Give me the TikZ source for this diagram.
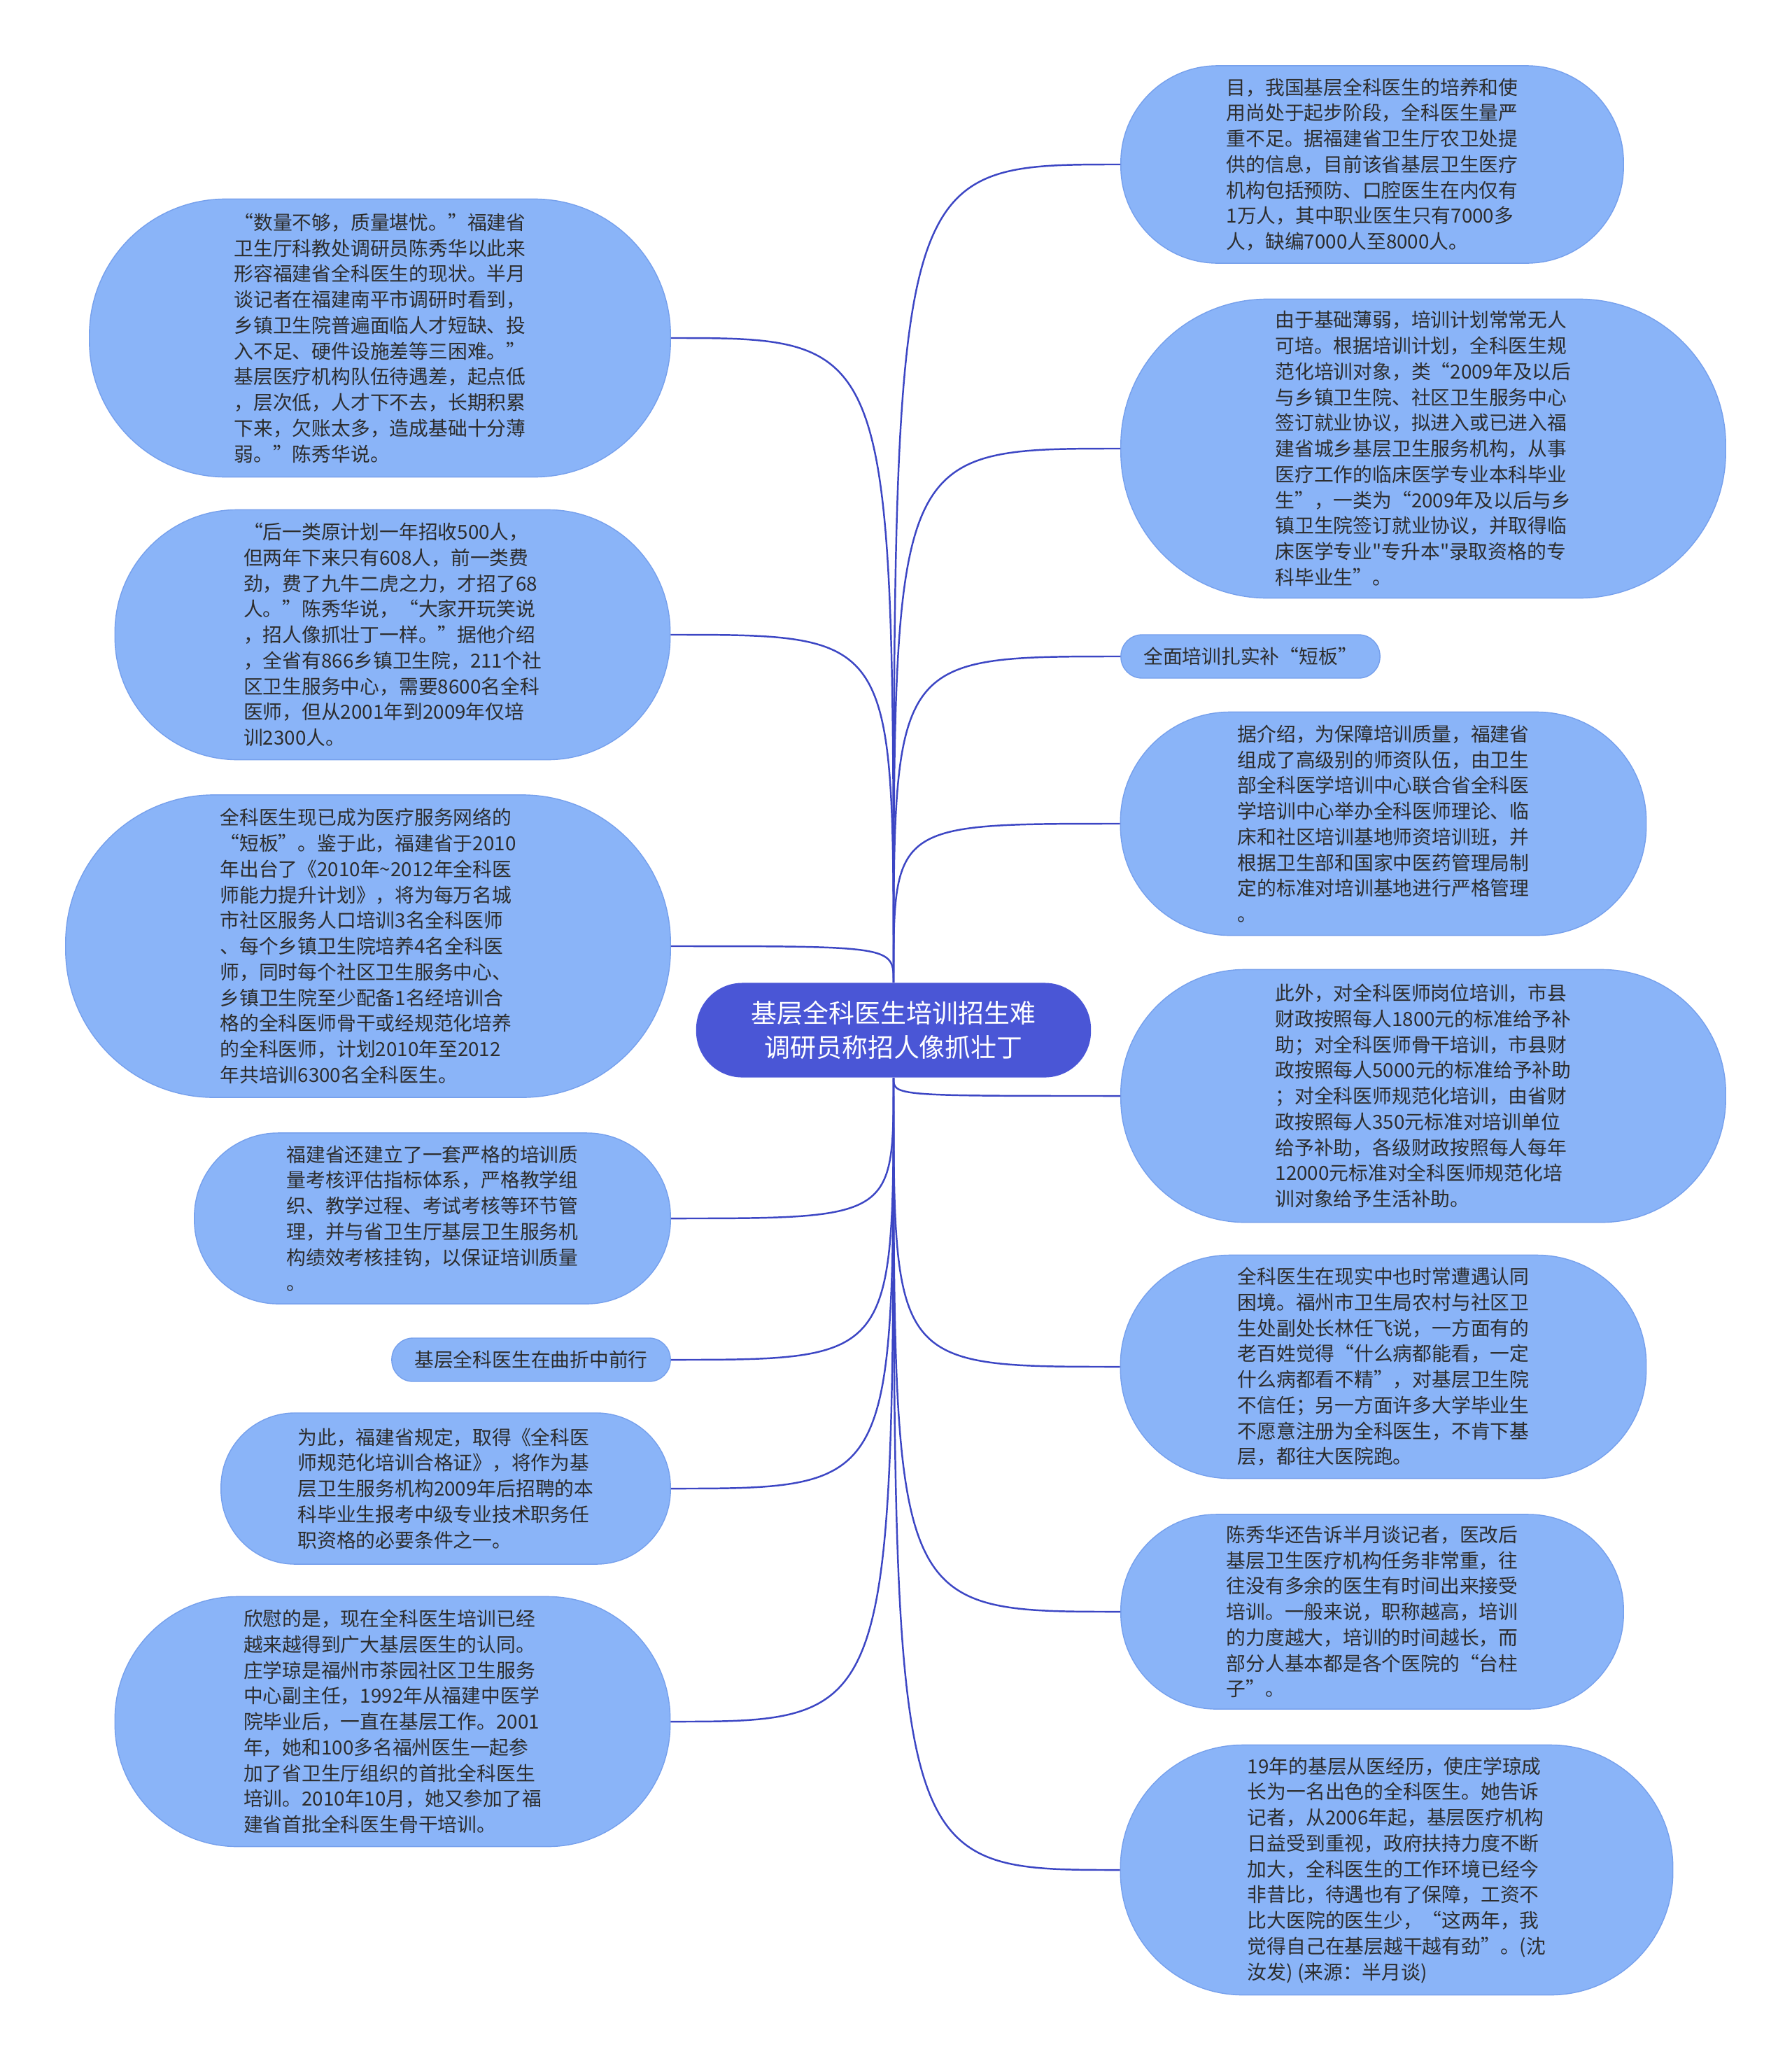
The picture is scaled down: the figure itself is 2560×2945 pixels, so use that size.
\documentclass[tikz,border=0pt]{standalone}
\usepackage{fontspec}
\newfontfamily\cjk{Noto Sans CJK SC}
\definecolor{bubblefill}{RGB}{138,180,248}
\definecolor{bubbleline}{RGB}{118,160,236}
\definecolor{rootfill}{RGB}{74,86,214}
\definecolor{linkblue}{RGB}{60,70,196}
\definecolor{textgray}{RGB}{45,45,45}

\begin{document}
\begin{tikzpicture}[x=0.01cm, y=-0.01cm,
  bubble/.style 2 args={draw=bubbleline, line width=0.4pt, fill=bubblefill, text=textgray,
    align=left, inner sep=2pt, minimum width=#1, minimum height=#2, rounded corners=0.49*#2,
    font=\cjk\fontsize{7.9}{10.45}\selectfont},
  root/.style={fill=rootfill, text=white, align=center, inner sep=2pt,
    minimum width=5.64cm, minimum height=1.35cm, rounded corners=0.66cm,
    font=\cjk\fontsize{10.5}{13.9}\selectfont},
  link/.style={draw=linkblue, line width=0.7pt}]
\useasboundingbox (0,0) rectangle (2560,2945);

\node[root] (root) at (1277,1472) {基层全科医生培训招生难\\调研员称招人像抓壮丁};

% left side
\node[bubble={8.30cm}{3.97cm}] (l1) at (543,483) {“数量不够，质量堪忧。”福建省\\
卫生厅科教处调研员陈秀华以此来\\
形容福建省全科医生的现状。半月\\
谈记者在福建南平市调研时看到，\\
乡镇卫生院普遍面临人才短缺、投\\
入不足、硬件设施差等三困难。”\\
基层医疗机构队伍待遇差，起点低\\
，层次低，人才下不去，长期积累\\
下来，欠账太多，造成基础十分薄\\
弱。”陈秀华说。};
\node[bubble={7.93cm}{3.57cm}] (l2) at (561,907) {“后一类原计划一年招收500人，\\
但两年下来只有608人，前一类费\\
劲，费了九牛二虎之力，才招了68\\
人。”陈秀华说，“大家开玩笑说\\
，招人像抓壮丁一样。”据他介绍\\
，全省有866乡镇卫生院，211个社\\
区卫生服务中心，需要8600名全科\\
医师，但从2001年到2009年仅培\\
训2300人。};
\node[bubble={8.64cm}{4.32cm}] (l3) at (526,1352) {全科医生现已成为医疗服务网络的\\
“短板”。鉴于此，福建省于2010\\
年出台了《2010年\textasciitilde 2012年全科医\\
师能力提升计划》，将为每万名城\\
市社区服务人口培训3名全科医师\\
、每个乡镇卫生院培养4名全科医\\
师，同时每个社区卫生服务中心、\\
乡镇卫生院至少配备1名经培训合\\
格的全科医师骨干或经规范化培养\\
的全科医师，计划2010年至2012\\
年共培训6300名全科医生。};
\node[bubble={6.80cm}{2.44cm}] (l4) at (618,1741) {福建省还建立了一套严格的培训质\\
量考核评估指标体系，严格教学组\\
织、教学过程、考试考核等环节管\\
理，并与省卫生厅基层卫生服务机\\
构绩效考核挂钩，以保证培训质量\\
。};
\node[bubble={3.98cm}{0.62cm}] (l5) at (759,1943) {基层全科医生在曲折中前行};
\node[bubble={6.42cm}{2.16cm}] (l6) at (637,2127) {为此，福建省规定，取得《全科医\\
师规范化培训合格证》，将作为基\\
层卫生服务机构2009年后招聘的本\\
科毕业生报考中级专业技术职务任\\
职资格的必要条件之一。};
\node[bubble={7.93cm}{3.57cm}] (l7) at (561,2460) {欣慰的是，现在全科医生培训已经\\
越来越得到广大基层医生的认同。\\
庄学琼是福州市茶园社区卫生服务\\
中心副主任，1992年从福建中医学\\
院毕业后，一直在基层工作。2001\\
年，她和100多名福州医生一起参\\
加了省卫生厅组织的首批全科医生\\
培训。2010年10月，她又参加了福\\
建省首批全科医生骨干培训。};

% right side
\node[bubble={7.18cm}{2.82cm}] (r1) at (1961,235) {目，我国基层全科医生的培养和使\\
用尚处于起步阶段，全科医生量严\\
重不足。据福建省卫生厅农卫处提\\
供的信息，目前该省基层卫生医疗\\
机构包括预防、口腔医生在内仅有\\
1万人，其中职业医生只有7000多\\
人，缺编7000人至8000人。};
\node[bubble={8.64cm}{4.27cm}] (r2) at (2034,641) {由于基础薄弱，培训计划常常无人\\
可培。根据培训计划，全科医生规\\
范化培训对象，类“2009年及以后\\
与乡镇卫生院、社区卫生服务中心\\
签订就业协议，拟进入或已进入福\\
建省城乡基层卫生服务机构，从事\\
医疗工作的临床医学专业本科毕业\\
生”，一类为“2009年及以后与乡\\
镇卫生院签订就业协议，并取得临\\
床医学专业"专升本"录取资格的专\\
科毕业生”。};
\node[bubble={3.70cm}{0.62cm}] (r3) at (1787,938) {全面培训扎实补“短板”};
\node[bubble={7.51cm}{3.19cm}] (r4) at (1977,1177) {据介绍，为保障培训质量，福建省\\
组成了高级别的师资队伍，由卫生\\
部全科医学培训中心联合省全科医\\
学培训中心举办全科医师理论、临\\
床和社区培训基地师资培训班，并\\
根据卫生部和国家中医药管理局制\\
定的标准对培训基地进行严格管理\\
。};
\node[bubble={8.64cm}{3.61cm}] (r5) at (2034,1566) {此外，对全科医师岗位培训，市县\\
财政按照每人1800元的标准给予补\\
助；对全科医师骨干培训，市县财\\
政按照每人5000元的标准给予补助\\
；对全科医师规范化培训，由省财\\
政按照每人350元标准对培训单位\\
给予补助，各级财政按照每人每年\\
12000元标准对全科医师规范化培\\
训对象给予生活补助。};
\node[bubble={7.51cm}{3.19cm}] (r6) at (1977,1953) {全科医生在现实中也时常遭遇认同\\
困境。福州市卫生局农村与社区卫\\
生处副处长林任飞说，一方面有的\\
老百姓觉得“什么病都能看，一定\\
什么病都看不精”，对基层卫生院\\
不信任；另一方面许多大学毕业生\\
不愿意注册为全科医生，不肯下基\\
层，都往大医院跑。};
\node[bubble={7.18cm}{2.78cm}] (r7) at (1961,2303) {陈秀华还告诉半月谈记者，医改后\\
基层卫生医疗机构任务非常重，往\\
往没有多余的医生有时间出来接受\\
培训。一般来说，职称越高，培训\\
的力度越大，培训的时间越长，而\\
部分人基本都是各个医院的“台柱\\
子”。};
\node[bubble={7.89cm}{3.57cm}] (r8) at (1996,2672) {19年的基层从医经历，使庄学琼成\\
长为一名出色的全科医生。她告诉\\
记者，从2006年起，基层医疗机构\\
日益受到重视，政府扶持力度不断\\
加大，全科医生的工作环境已经今\\
非昔比，待遇也有了保障，工资不\\
比大医院的医生少，“这两年，我\\
觉得自己在基层越干越有劲”。(沈\\
汝发) (来源：半月谈)};

% connectors
\foreach \n in {l1,l2,l3}
  \draw[link] (root.north) .. controls (root.north |- \n.east) .. (\n.east);
\foreach \n in {r1,r2,r3,r4}
  \draw[link] (root.north) .. controls (root.north |- \n.west) .. (\n.west);
\foreach \n in {l4,l5,l6,l7}
  \draw[link] (root.south) .. controls (root.south |- \n.east) .. (\n.east);
\foreach \n in {r5,r6,r7,r8}
  \draw[link] (root.south) .. controls (root.south |- \n.west) .. (\n.west);
\end{tikzpicture}
\end{document}
